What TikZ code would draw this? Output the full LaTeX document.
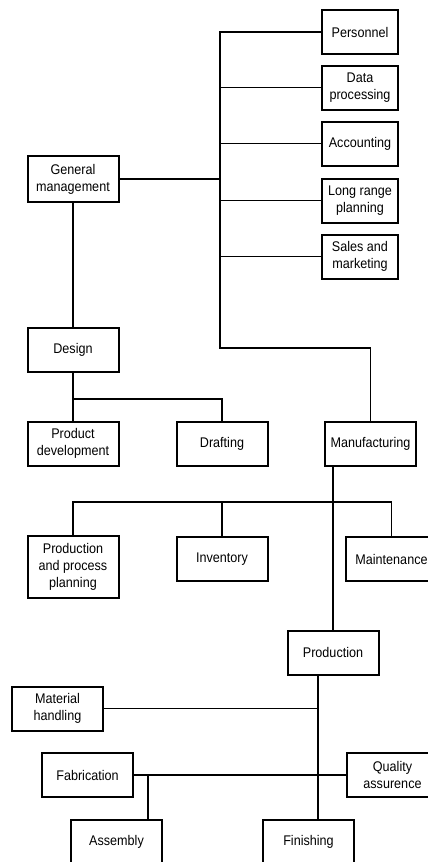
\documentclass[tikz,border=0pt]{standalone}
\usepackage{fontspec}
\setmainfont{Liberation Sans}[FakeStretch=0.9]
\begin{document}
\begin{tikzpicture}[x=1pt,y=-1pt,
  unit/.style={draw, line width=2pt, minimum width=91pt, minimum height=44pt,
    inner sep=0pt, align=center, font=\fontsize{14}{17}\selectfont},
  staff/.style={unit, minimum width=76pt},
  link/.style={line width=1.7pt}]
\useasboundingbox (0,0) rectangle (428,862);
\fill[white] (0,0) rectangle (428,862);
\clip (0,0) rectangle (428,862);

% staff departments
\node[staff] (pers) at (360,32) {Personnel};
\node[staff] (dp) at (360,87.5) {Data\\processing};
\node[staff] (acc) at (360,143.5) {Accounting};
\node[staff] (lrp) at (360,200.5) {Long range\\planning};
\node[staff] (sm) at (360,256.5) {Sales and\\marketing};

% line organisation
\node[unit, minimum height=46pt] (gm) at (73,179) {General\\management};
\node[unit] (des) at (73,350) {Design};
\node[unit] (pd) at (73,443.5) {Product\\development};
\node[unit] (draft) at (222,443.5) {Drafting};
\node[unit] (mfg) at (370.5,444) {Manufacturing};
\node[unit, minimum height=62pt] (ppp) at (73,567) {Production\\and process\\planning};
\node[unit] (inv) at (222,559) {Inventory};
\node[unit] (maint) at (391.5,559) {Maintenance};
\node[unit] (prod) at (333,652.5) {Production};
\node[unit] (mh) at (57.5,708.5) {Material\\handling};
\node[unit] (fab) at (87.5,775) {Fabrication};
\node[unit] (qa) at (392.5,775) {Quality\\assurence};
\node[unit] (asm) at (116.5,842) {Assembly};
\node[unit] (fin) at (308.5,842) {Finishing};

% junction points
\coordinate (bus) at (220,32);
\coordinate (busend) at (220,348);
\coordinate (mfgturn) at (370.5,348);
\coordinate (desj) at (73,399);
\coordinate (mbus) at (391.5,502);
\coordinate (pv) at (318,0);
\coordinate (fj) at (148,775);

% staff bus
\draw[link] (pers.west) -- (pers.west -| bus) -- (busend) -- (mfgturn) -- (mfg.north);
\draw[link] (dp.west) -- (dp.west -| bus);
\draw[link] (acc.west) -- (acc.west -| bus);
\draw[link] (lrp.west) -- (lrp.west -| bus);
\draw[link] (sm.west) -- (sm.west -| bus);
\draw[link] (gm.east) -- (gm.east -| bus);

% design branch
\draw[link] (gm.south) -- (des.north);
\draw[link] (des.south) -- (pd.north);
\draw[link] (desj) -| (draft.north);

% manufacturing branch
\draw[link] (mfg.south -| prod.north) -- (prod.north);
\draw[link] (ppp.north) |- (mbus) -- (maint.north);
\draw[link] (inv.north) -- (inv.north |- mbus);

% production branch
\draw[link] (prod.south -| pv) -- (fin.north -| pv);
\draw[link] (mh.east) -- (mh.east -| pv);
\draw[link] (fab.east) -- (qa.west);
\draw[link] (fj) -- (fj |- asm.north);
\end{tikzpicture}
\end{document}
